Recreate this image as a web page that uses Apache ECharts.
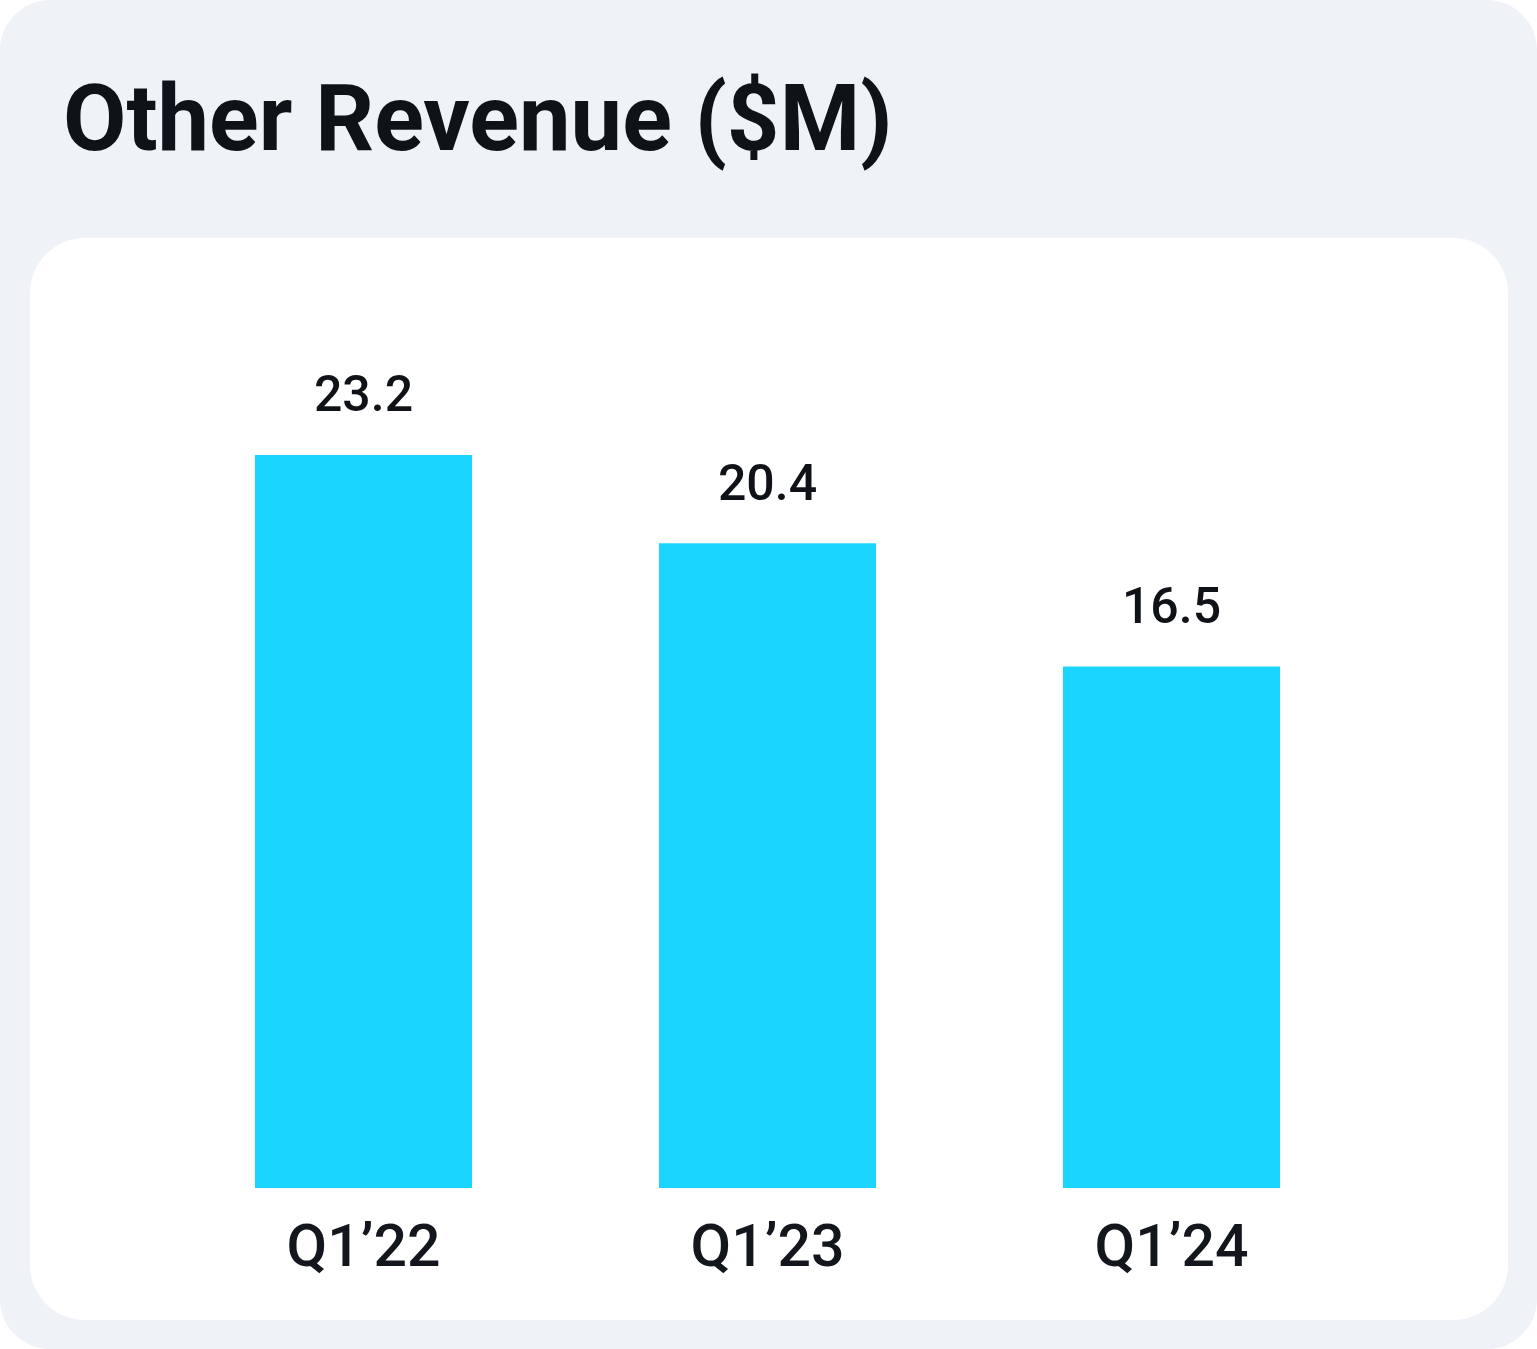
<!DOCTYPE html>
<html>
<head>
<meta charset="utf-8">
<script src="https://cdn.jsdelivr.net/npm/echarts@6/dist/echarts.min.js"></script>
<style>
html,body{margin:0;padding:0;background:#ffffff;}
#chart{width:1537px;height:1349px;}
</style>
</head>
<body>
<div id="chart"></div>
<script>
const categories = ['Q1\u201922', 'Q1\u201923', 'Q1\u201924'];
const values = [23.2, 20.4, 16.5];
const titleText = 'Other Revenue ($M)';

const chart = echarts.init(document.getElementById('chart'), null, {renderer: 'canvas'});
chart.setOption({
  animation: false,
  backgroundColor: 'transparent',
  graphic: [
    {type: 'rect', z: -20, shape: {x: 0, y: 0, width: 1537, height: 1349, r: 50}, style: {fill: '#eff3f8'}},
    {type: 'rect', z: -10, shape: {x: 30, y: 238, width: 1478, height: 1082, r: 55}, style: {fill: '#ffffff'}}
  ],
  title: {
    text: titleText,
    left: 63,
    top: 81,
    padding: 0,
    textStyle: {fontFamily: 'Roboto', fontWeight: 'bold', fontSize: 92, color: '#0f1217'}
  },
  grid: {left: 161.5, right: 163.5, top: 240, bottom: 161, containLabel: false},
  xAxis: {
    type: 'category',
    data: categories,
    axisLine: {show: false},
    axisTick: {show: false},
    axisLabel: {margin: 34, fontFamily: 'Roboto', fontWeight: 500, fontSize: 59, color: '#13171d'}
  },
  yAxis: {
    type: 'value',
    min: 0,
    max: 30,
    show: false,
    splitLine: {show: false}
  },
  series: [{
    type: 'bar',
    data: values,
    barWidth: 217,
    itemStyle: {color: '#1ad5ff'},
    label: {
      show: true,
      position: 'top',
      distance: 31,
      fontFamily: 'Roboto',
      fontWeight: 500,
      fontSize: 50,
      color: '#0f1217',
      formatter: p => p.value.toFixed(1)
    }
  }]
});
</script>
</body>
</html>
